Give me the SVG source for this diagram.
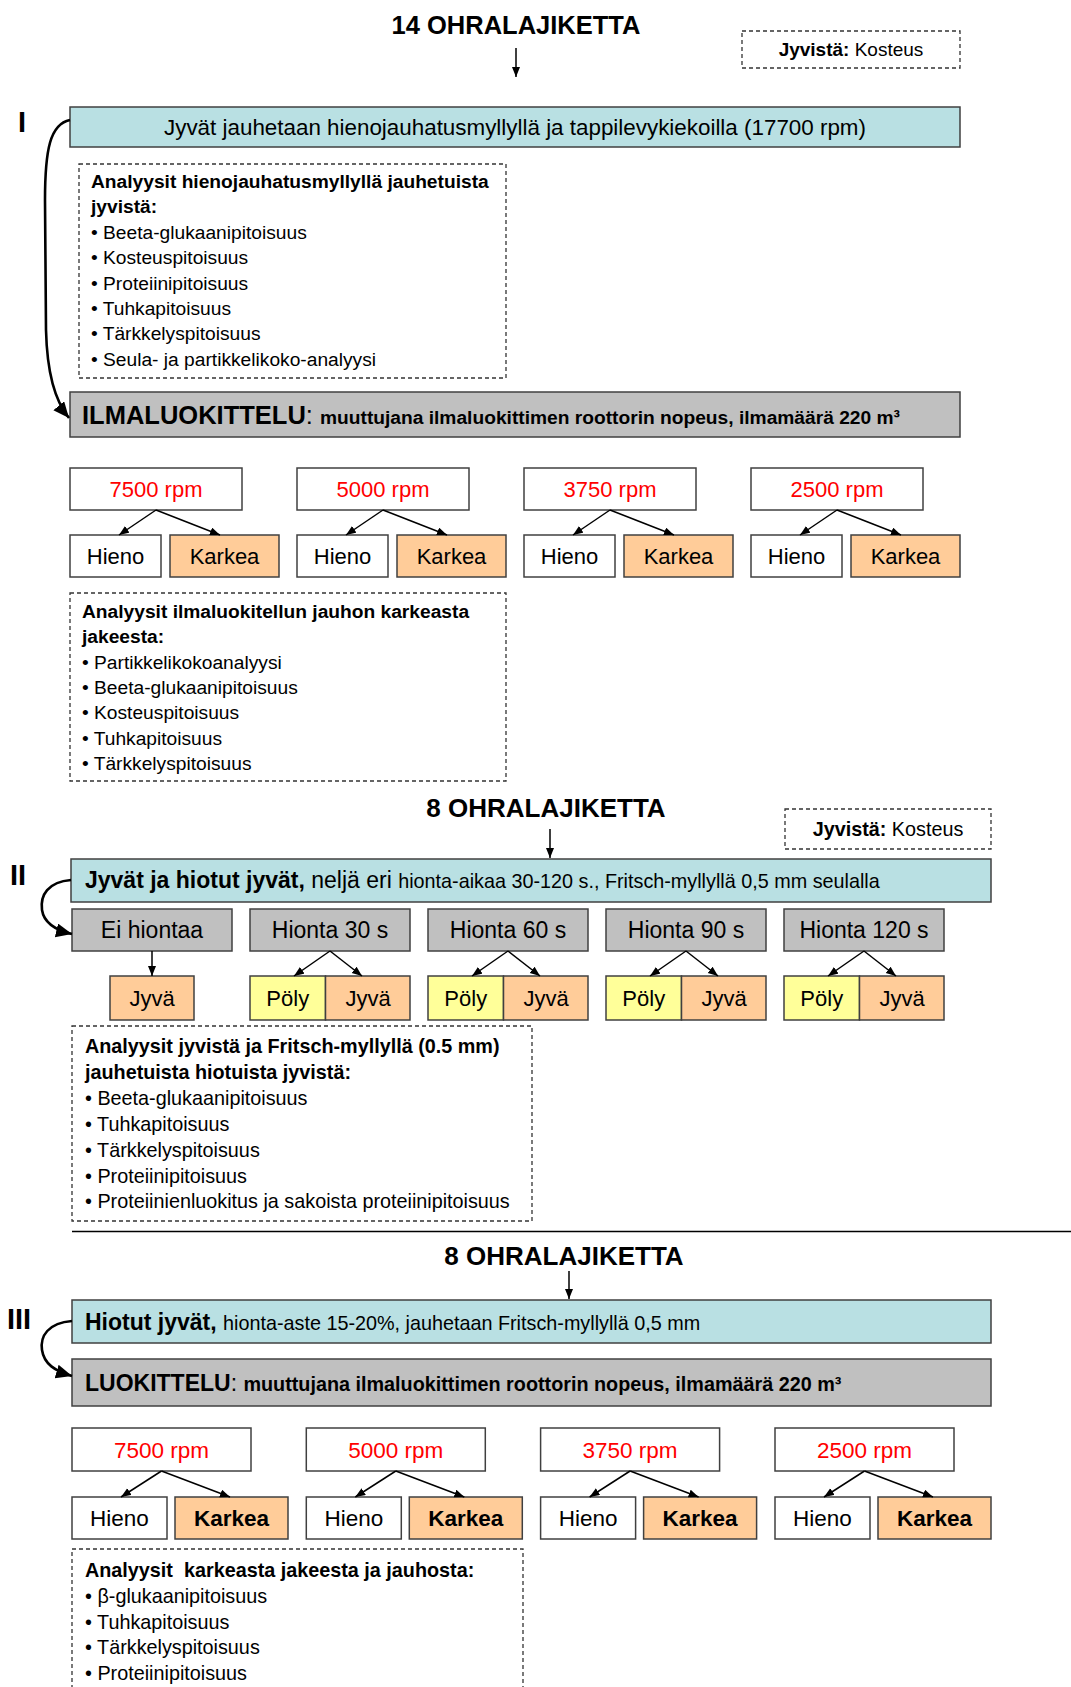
<svg xmlns="http://www.w3.org/2000/svg" width="1071" height="1687" viewBox="0 0 1071 1687">
<defs>
<style>
text{font-family:"Liberation Sans",Arial,sans-serif;fill:#000}
.b{font-weight:bold}
.box{stroke:#404040;stroke-width:1.5}
.cyan{fill:#B9E0E3}
.gray{fill:#C0C0C0}
.white{fill:#FFFFFF}
.peach{fill:#FFCC99}
.yellow{fill:#FFFF99}
.dash{fill:none;stroke:#333;stroke-width:1.3;stroke-dasharray:4 3}
.red{fill:#FF0000}
.c{text-anchor:middle}
.ln{stroke:#000;stroke-width:1.5;fill:none;marker-end:url(#ah)}
.curve{stroke:#000;stroke-width:2.6;fill:none;marker-end:url(#big)}
</style>
<marker id="ah" markerUnits="userSpaceOnUse" markerWidth="12" markerHeight="10" refX="10" refY="4" orient="auto">
<path d="M0,0 L10,4 L0,8 z" fill="#000"/>
</marker>
<marker id="big" markerUnits="userSpaceOnUse" markerWidth="20" markerHeight="16" refX="16" refY="7" orient="auto">
<path d="M0,0 L16,7 L0,14 z" fill="#000"/>
</marker>
</defs>

<!-- Section I -->
<g id="title1"><text class="b c" x="516" y="34" font-size="25.5">14 OHRALAJIKETTA</text></g>
<g id="moist1"><rect class="dash" x="742" y="31" width="218" height="37"/><text class="c" x="851" y="56" font-size="19"><tspan class="b">Jyvistä:</tspan> Kosteus</text></g>
<g id="label1"><text class="b" x="18" y="132" font-size="29">I</text></g>
<g id="mill1"><rect class="box cyan" x="70" y="107" width="890" height="40"/><text class="c" x="515" y="135" font-size="22.4">Jyvät jauhetaan hienojauhatusmyllyllä ja tappilevykiekoilla (17700 rpm)</text></g>
<g id="analysis1"><rect class="dash" x="79" y="164" width="427" height="214"/>
<text x="91" font-size="19.2"><tspan class="b" x="91" y="188">Analyysit hienojauhatusmyllyllä jauhetuista</tspan><tspan class="b" x="91" y="213.4">jyvistä:</tspan><tspan x="91" y="238.8">• Beeta-glukaanipitoisuus</tspan><tspan x="91" y="264.2">• Kosteuspitoisuus</tspan><tspan x="91" y="289.6">• Proteiinipitoisuus</tspan><tspan x="91" y="315">• Tuhkapitoisuus</tspan><tspan x="91" y="340.4">• Tärkkelyspitoisuus</tspan><tspan x="91" y="365.8">• Seula- ja partikkelikoko-analyysi</tspan></text></g>
<g id="air1"><rect class="box gray" x="70" y="392" width="890" height="45"/><text x="82" y="424" font-size="25.5"><tspan class="b">ILMALUOKITTELU</tspan>: <tspan class="b" font-size="19.2">muuttujana ilmaluokittimen roottorin nopeus, ilmamäärä 220 m³</tspan></text></g>

<g id="rpm1-7500"><rect class="box white" x="70" y="468" width="172" height="42"/><text class="c red" x="156" y="497" font-size="22">7500 rpm</text></g>
<g id="fine1-7500"><rect class="box white" x="70" y="535" width="91" height="42"/><text class="c" x="115.5" y="564" font-size="22">Hieno</text></g>
<g id="coarse1-7500"><rect class="box peach" x="170" y="535" width="109" height="42"/><text class="c" x="224.5" y="564" font-size="22">Karkea</text></g>
<g id="rpm1-5000"><rect class="box white" x="297" y="468" width="172" height="42"/><text class="c red" x="383" y="497" font-size="22">5000 rpm</text></g>
<g id="fine1-5000"><rect class="box white" x="297" y="535" width="91" height="42"/><text class="c" x="342.5" y="564" font-size="22">Hieno</text></g>
<g id="coarse1-5000"><rect class="box peach" x="397" y="535" width="109" height="42"/><text class="c" x="451.5" y="564" font-size="22">Karkea</text></g>
<g id="rpm1-3750"><rect class="box white" x="524" y="468" width="172" height="42"/><text class="c red" x="610" y="497" font-size="22">3750 rpm</text></g>
<g id="fine1-3750"><rect class="box white" x="524" y="535" width="91" height="42"/><text class="c" x="569.5" y="564" font-size="22">Hieno</text></g>
<g id="coarse1-3750"><rect class="box peach" x="624" y="535" width="109" height="42"/><text class="c" x="678.5" y="564" font-size="22">Karkea</text></g>
<g id="rpm1-2500"><rect class="box white" x="751" y="468" width="172" height="42"/><text class="c red" x="837" y="497" font-size="22">2500 rpm</text></g>
<g id="fine1-2500"><rect class="box white" x="751" y="535" width="91" height="42"/><text class="c" x="796.5" y="564" font-size="22">Hieno</text></g>
<g id="coarse1-2500"><rect class="box peach" x="851" y="535" width="109" height="42"/><text class="c" x="905.5" y="564" font-size="22">Karkea</text></g>

<g id="analysis1b"><rect class="dash" x="70" y="593" width="436" height="188"/>
<text x="82" font-size="19.2"><tspan class="b" x="82" y="618">Analyysit ilmaluokitellun jauhon karkeasta</tspan><tspan class="b" x="82" y="643.3">jakeesta:</tspan><tspan x="82" y="668.6">• Partikkelikokoanalyysi</tspan><tspan x="82" y="693.9">• Beeta-glukaanipitoisuus</tspan><tspan x="82" y="719.2">• Kosteuspitoisuus</tspan><tspan x="82" y="744.5">• Tuhkapitoisuus</tspan><tspan x="82" y="769.8">• Tärkkelyspitoisuus</tspan></text></g>

<!-- Section II -->
<g id="title2"><text class="b c" x="546" y="817" font-size="26">8 OHRALAJIKETTA</text></g>
<g id="moist2"><rect class="dash" x="785" y="809" width="206" height="40"/><text class="c" x="888" y="836" font-size="19.8"><tspan class="b">Jyvistä:</tspan> Kosteus</text></g>
<g id="label2"><text class="b" x="10" y="885" font-size="29">II</text></g>
<g id="grind2"><rect class="box cyan" x="71" y="859" width="920" height="43"/><text x="85" y="888" font-size="23"><tspan class="b">Jyvät ja hiotut jyvät,</tspan> neljä eri <tspan font-size="19.8">hionta-aikaa 30-120 s., Fritsch-myllyllä 0,5 mm seulalla</tspan></text></g>

<g id="h0"><rect class="box gray" x="72" y="909" width="160" height="42"/><text class="c" x="152" y="938" font-size="23">Ei hiontaa</text></g>
<g id="h30"><rect class="box gray" x="250" y="909" width="160" height="42"/><text class="c" x="330" y="938" font-size="23">Hionta 30 s</text></g>
<g id="h60"><rect class="box gray" x="428" y="909" width="160" height="42"/><text class="c" x="508" y="938" font-size="23">Hionta 60 s</text></g>
<g id="h90"><rect class="box gray" x="606" y="909" width="160" height="42"/><text class="c" x="686" y="938" font-size="23">Hionta 90 s</text></g>
<g id="h120"><rect class="box gray" x="784" y="909" width="160" height="42"/><text class="c" x="864" y="938" font-size="23">Hionta 120 s</text></g>

<g id="j0"><rect class="box peach" x="110" y="976" width="84" height="44"/><text class="c" x="152" y="1006" font-size="22">Jyvä</text></g>
<g id="p30"><rect class="box yellow" x="250" y="976" width="75.5" height="44"/><text class="c" x="287.75" y="1006" font-size="22">Pöly</text></g>
<g id="j30"><rect class="box peach" x="325.5" y="976" width="84.5" height="44"/><text class="c" x="368" y="1006" font-size="22">Jyvä</text></g>
<g id="p60"><rect class="box yellow" x="428" y="976" width="75.5" height="44"/><text class="c" x="465.75" y="1006" font-size="22">Pöly</text></g>
<g id="j60"><rect class="box peach" x="503.5" y="976" width="84.5" height="44"/><text class="c" x="546" y="1006" font-size="22">Jyvä</text></g>
<g id="p90"><rect class="box yellow" x="606" y="976" width="75.5" height="44"/><text class="c" x="643.75" y="1006" font-size="22">Pöly</text></g>
<g id="j90"><rect class="box peach" x="681.5" y="976" width="84.5" height="44"/><text class="c" x="724" y="1006" font-size="22">Jyvä</text></g>
<g id="p120"><rect class="box yellow" x="784" y="976" width="75.5" height="44"/><text class="c" x="821.75" y="1006" font-size="22">Pöly</text></g>
<g id="j120"><rect class="box peach" x="859.5" y="976" width="84.5" height="44"/><text class="c" x="902" y="1006" font-size="22">Jyvä</text></g>

<g id="analysis2"><rect class="dash" x="72" y="1026" width="460" height="195"/>
<text x="85" font-size="19.8"><tspan class="b" x="85" y="1053">Analyysit jyvistä ja Fritsch-myllyllä (0.5 mm)</tspan><tspan class="b" x="85" y="1078.9">jauhetuista hiotuista jyvistä:</tspan><tspan x="85" y="1104.8">• Beeta-glukaanipitoisuus</tspan><tspan x="85" y="1130.7">• Tuhkapitoisuus</tspan><tspan x="85" y="1156.6">• Tärkkelyspitoisuus</tspan><tspan x="85" y="1182.5">• Proteiinipitoisuus</tspan><tspan x="85" y="1208.4">• Proteiinienluokitus ja sakoista proteiinipitoisuus</tspan></text></g>

<g id="separator"><line x1="72" y1="1231.5" x2="1071" y2="1231.5" stroke="#000" stroke-width="1.5"/></g>

<!-- Section III -->
<g id="title3"><text class="b c" x="564" y="1265" font-size="26">8 OHRALAJIKETTA</text></g>
<g id="label3"><text class="b" x="7" y="1329" font-size="29">III</text></g>
<g id="grind3"><rect class="box cyan" x="72" y="1300" width="919" height="43"/><text x="85" y="1330" font-size="23"><tspan class="b">Hiotut jyvät,</tspan> <tspan font-size="19.8">hionta-aste 15-20%, jauhetaan Fritsch-myllyllä 0,5 mm</tspan></text></g>
<g id="air3"><rect class="box gray" x="72" y="1359" width="919" height="47"/><text x="85" y="1391" font-size="23"><tspan class="b">LUOKITTELU</tspan>: <tspan class="b" font-size="19.8">muuttujana ilmaluokittimen roottorin nopeus, ilmamäärä 220 m³</tspan></text></g>

<g id="rpm3-7500"><rect class="box white" x="72" y="1428" width="179" height="43"/><text class="c red" x="161.5" y="1457.5" font-size="22.5">7500 rpm</text></g>
<g id="fine3-7500"><rect class="box white" x="72" y="1497" width="95" height="42"/><text class="c" x="119.5" y="1526" font-size="22.5">Hieno</text></g>
<g id="coarse3-7500"><rect class="box peach" x="175" y="1497" width="113" height="42"/><text class="c b" x="231.5" y="1526" font-size="22.5">Karkea</text></g>
<g id="rpm3-5000"><rect class="box white" x="306.3" y="1428" width="179" height="43"/><text class="c red" x="395.8" y="1457.5" font-size="22.5">5000 rpm</text></g>
<g id="fine3-5000"><rect class="box white" x="306.3" y="1497" width="95" height="42"/><text class="c" x="353.8" y="1526" font-size="22.5">Hieno</text></g>
<g id="coarse3-5000"><rect class="box peach" x="409.3" y="1497" width="113" height="42"/><text class="c b" x="465.8" y="1526" font-size="22.5">Karkea</text></g>
<g id="rpm3-3750"><rect class="box white" x="540.6" y="1428" width="179" height="43"/><text class="c red" x="630.1" y="1457.5" font-size="22.5">3750 rpm</text></g>
<g id="fine3-3750"><rect class="box white" x="540.6" y="1497" width="95" height="42"/><text class="c" x="588.1" y="1526" font-size="22.5">Hieno</text></g>
<g id="coarse3-3750"><rect class="box peach" x="643.6" y="1497" width="113" height="42"/><text class="c b" x="700.1" y="1526" font-size="22.5">Karkea</text></g>
<g id="rpm3-2500"><rect class="box white" x="775" y="1428" width="179" height="43"/><text class="c red" x="864.5" y="1457.5" font-size="22.5">2500 rpm</text></g>
<g id="fine3-2500"><rect class="box white" x="775" y="1497" width="95" height="42"/><text class="c" x="822.5" y="1526" font-size="22.5">Hieno</text></g>
<g id="coarse3-2500"><rect class="box peach" x="878" y="1497" width="113" height="42"/><text class="c b" x="934.5" y="1526" font-size="22.5">Karkea</text></g>

<g id="analysis3"><rect class="dash" x="72" y="1549" width="451" height="200"/>
<text x="85" font-size="19.8"><tspan class="b" x="85" y="1577">Analyysit&#160; karkeasta jakeesta ja jauhosta:</tspan><tspan x="85" y="1602.8">• β-glukaanipitoisuus</tspan><tspan x="85" y="1628.6">• Tuhkapitoisuus</tspan><tspan x="85" y="1654.4">• Tärkkelyspitoisuus</tspan><tspan x="85" y="1680.2">• Proteiinipitoisuus</tspan></text></g>

<g id="connectors">
<line class="ln" x1="516" y1="48" x2="516" y2="77"/>
<path class="curve" d="M70,120 C50,124 45,150 45,200 L46,330 C47,372 54,400 69,418"/>
<line class="ln" x1="156" y1="510" x2="119" y2="535"/>
<line class="ln" x1="156" y1="510" x2="220" y2="535"/>
<line class="ln" x1="383" y1="510" x2="346" y2="535"/>
<line class="ln" x1="383" y1="510" x2="447" y2="535"/>
<line class="ln" x1="610" y1="510" x2="573" y2="535"/>
<line class="ln" x1="610" y1="510" x2="674" y2="535"/>
<line class="ln" x1="837" y1="510" x2="800" y2="535"/>
<line class="ln" x1="837" y1="510" x2="901" y2="535"/>

<line class="ln" x1="550" y1="829" x2="550" y2="858"/>
<path class="curve" d="M71,880 C48,882 40,895 42,910 C44,923 55,930 72,934"/>
<line class="ln" x1="152" y1="951" x2="152" y2="976"/>
<line class="ln" x1="330" y1="951" x2="294" y2="976"/>
<line class="ln" x1="330" y1="951" x2="362" y2="976"/>
<line class="ln" x1="508" y1="951" x2="472" y2="976"/>
<line class="ln" x1="508" y1="951" x2="540" y2="976"/>
<line class="ln" x1="686" y1="951" x2="650" y2="976"/>
<line class="ln" x1="686" y1="951" x2="718" y2="976"/>
<line class="ln" x1="864" y1="951" x2="828" y2="976"/>
<line class="ln" x1="864" y1="951" x2="896" y2="976"/>

<line class="ln" x1="569" y1="1271" x2="569" y2="1299"/>
<path class="curve" d="M72,1321 C48,1323 40,1336 42,1350 C44,1364 55,1371 72,1376"/>
<line class="ln" x1="161.5" y1="1471" x2="121" y2="1497"/>
<line class="ln" x1="161.5" y1="1471" x2="230" y2="1497"/>
<line class="ln" x1="395.8" y1="1471" x2="355.3" y2="1497"/>
<line class="ln" x1="395.8" y1="1471" x2="464.3" y2="1497"/>
<line class="ln" x1="630.1" y1="1471" x2="589.6" y2="1497"/>
<line class="ln" x1="630.1" y1="1471" x2="698.6" y2="1497"/>
<line class="ln" x1="864.5" y1="1471" x2="824" y2="1497"/>
<line class="ln" x1="864.5" y1="1471" x2="933" y2="1497"/>
</g>
</svg>
